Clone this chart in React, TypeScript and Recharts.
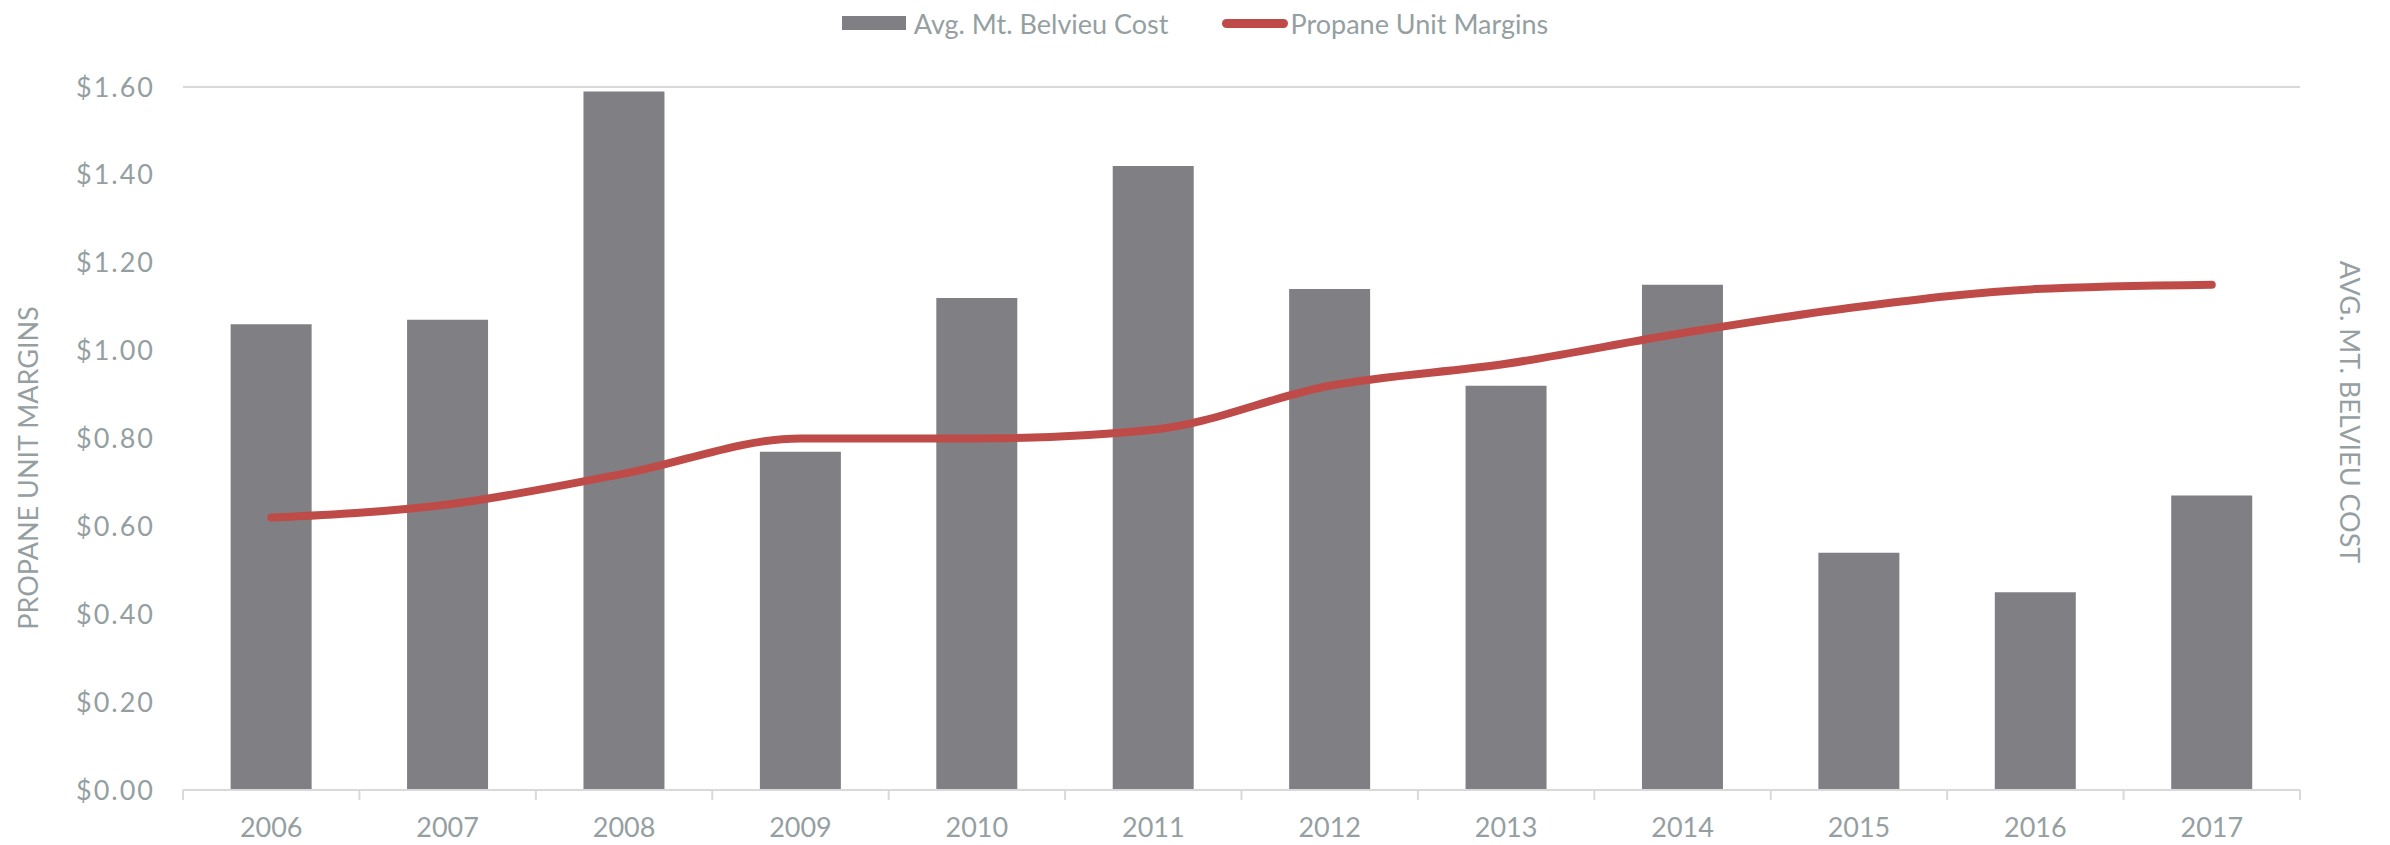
import React from "react";
import { ComposedChart, Bar, Line, XAxis, YAxis, CartesianGrid, Legend, Label } from "recharts";

const years = ["2006", "2007", "2008", "2009", "2010", "2011", "2012", "2013", "2014", "2015", "2016", "2017"];
const belvieuCost = [1.06, 1.07, 1.59, 0.77, 1.12, 1.42, 1.14, 0.92, 1.15, 0.54, 0.45, 0.67];
const unitMargins = [0.62, 0.65, 0.72, 0.8, 0.8, 0.82, 0.92, 0.97, 1.04, 1.1, 1.14, 1.15];
const yTicks = [0, 0.2, 0.4, 0.6, 0.8, 1.0, 1.2, 1.4, 1.6];

const data = years.map((year, i) => ({
  year,
  cost: belvieuCost[i],
  margin: unitMargins[i],
}));

const W = 2390;
const H = 845;
const LEFT = 183;
const RIGHT_W = 90;
const LEGEND_H = 36;
const FONT = "Lato, 'Open Sans', sans-serif";
const TEXT = "#959fa2";
const GRID = "#d9d9d9";
const BAR = "#808084";
const RED = "#be4b48";
const HALF_BAND = (W - LEFT - RIGHT_W) / years.length / 2;

const YearTick = (props: any) => {
  const { x, y, payload, index } = props;
  return (
    <g>
      <line x1={x - HALF_BAND} y1={y} x2={x - HALF_BAND} y2={y + 10} stroke={GRID} strokeWidth={2} />
      {index === years.length - 1 && (
        <line x1={x + HALF_BAND} y1={y} x2={x + HALF_BAND} y2={y + 10} stroke={GRID} strokeWidth={2} />
      )}
      <text x={x} y={y + 36} textAnchor="middle" dominantBaseline="central" fill={TEXT} fontSize={27} fontFamily={FONT}>
        {payload.value}
      </text>
    </g>
  );
};

const LegendContent = () => (
  <div style={{ height: LEGEND_H, display: "flex", justifyContent: "center", alignItems: "center", fontFamily: FONT, fontSize: 27, color: TEXT }}>
    <span style={{ display: "inline-block", width: 64, height: 14, background: BAR, marginRight: 8 }} />
    <span style={{ marginRight: 54 }}>Avg. Mt. Belvieu Cost</span>
    <span style={{ display: "inline-block", width: 66, height: 9, background: RED, borderRadius: 5, marginRight: 2 }} />
    <span>Propane Unit Margins</span>
  </div>
);

export default function App() {
  return (
    <div style={{ position: "absolute", left: 0, top: 0, width: W, height: H, background: "#fff" }}>
      <ComposedChart width={W} height={H} data={data} margin={{ top: 87 - LEGEND_H, right: 0, bottom: 0, left: 0 }} barCategoryGap="27%">
        <CartesianGrid vertical={false} stroke={GRID} strokeWidth={2} />
        <XAxis
          dataKey="year"
          axisLine={{ stroke: GRID, strokeWidth: 2 }}
          tickLine={false}
          tickSize={0}
          tickMargin={0}
          tick={<YearTick />}
          interval={0}
          height={55}
        />
        <YAxis
          yAxisId="left"
          domain={[0, 1.6]}
          ticks={yTicks}
          width={LEFT}
          axisLine={false}
          tickLine={false}
          tickSize={8}
          tickMargin={20}
          tickFormatter={(v: number) => `$${v.toFixed(2)}`}
          tick={{ fill: TEXT, fontSize: 27, fontFamily: FONT, letterSpacing: 2 }}
        >
          <Label
            content={() => (
              <text x={27} y={468} transform="rotate(-90, 27, 468)" textAnchor="middle" dominantBaseline="central" fill={TEXT} fontSize={27} fontFamily={FONT}>
                PROPANE UNIT MARGINS
              </text>
            )}
          />
        </YAxis>
        <YAxis
          yAxisId="right"
          orientation="right"
          domain={[0, 1.6]}
          ticks={yTicks}
          width={RIGHT_W}
          axisLine={false}
          tickLine={false}
          tick={false}
        >
          <Label
            content={() => (
              <text x={2350} y={412} transform="rotate(90, 2350, 412)" textAnchor="middle" dominantBaseline="central" fill={TEXT} fontSize={27} fontFamily={FONT}>
                AVG. MT. BELVIEU COST
              </text>
            )}
          />
        </YAxis>
        <Legend verticalAlign="top" height={LEGEND_H} content={<LegendContent />} wrapperStyle={{ top: 5, left: 0, width: W }} />
        <Bar yAxisId="right" dataKey="cost" name="Avg. Mt. Belvieu Cost" fill={BAR} isAnimationActive={false} />
        <Line
          yAxisId="left"
          type="monotone"
          dataKey="margin"
          name="Propane Unit Margins"
          stroke={RED}
          strokeWidth={8}
          strokeLinecap="round"
          dot={false}
          activeDot={false}
          isAnimationActive={false}
        />
      </ComposedChart>
    </div>
  );
}
